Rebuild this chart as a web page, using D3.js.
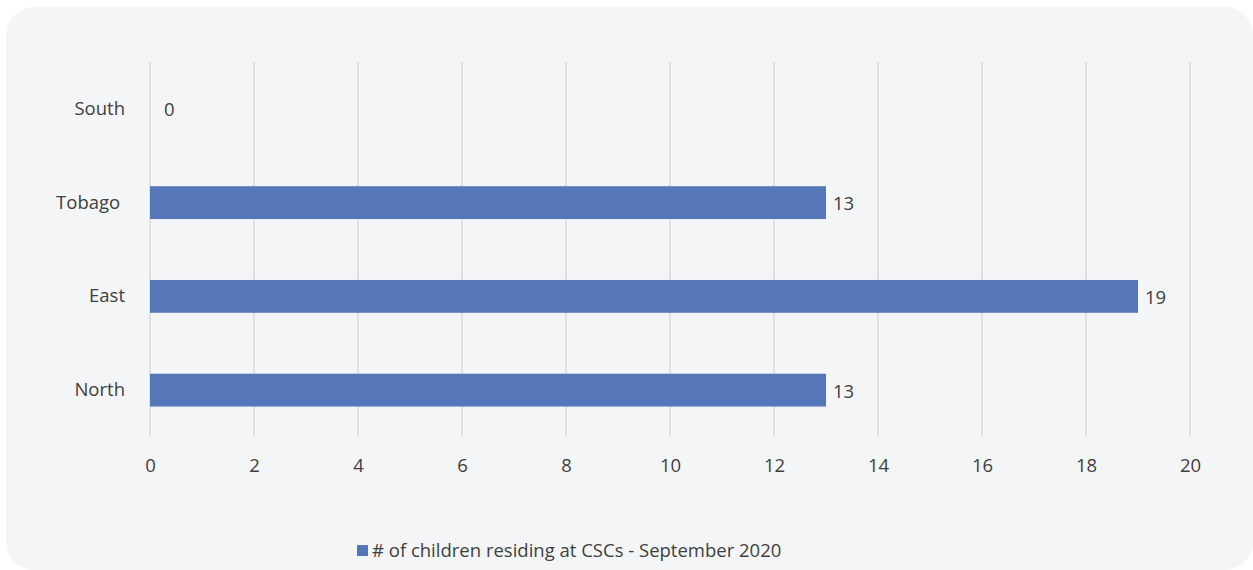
<!DOCTYPE html>
<html>
<head>
<meta charset="utf-8">
<script src="https://cdn.jsdelivr.net/npm/d3@7"></script>
<style>
  body { margin: 0; background: #fff; }
  text { font-family: "Open Sans", "Noto Sans", sans-serif; fill: #404040; }
</style>
</head>
<body>
<div id="chart"></div>
<script>
// categories from bottom to top as drawn
var regions = ["North", "East", "Tobago\u00a0", "South"];
var children = [13, 19, 13, 0];
var xTicks = [0, 2, 4, 6, 8, 10, 12, 14, 16, 18, 20];
var seriesName = "# of children residing at CSCs - September 2020";

var W = 1253, H = 570;
var FS = "18.5px";
var svg = d3.select("#chart").append("svg")
  .attr("width", W)
  .attr("height", H);

svg.append("rect")
  .attr("x", 6).attr("y", 7)
  .attr("width", 1247).attr("height", 563)
  .attr("rx", 28)
  .attr("fill", "#f4f5f7");

var x = d3.scaleLinear().domain([0, 20]).range([150, 1190]);
var y = d3.scaleBand().domain(regions.slice().reverse()).range([62, 437]).paddingInner(0.65).paddingOuter(0.325);

// gridlines
svg.append("g").selectAll("line")
  .data(xTicks)
  .enter().append("line")
  .attr("x1", function(d){ return x(d); })
  .attr("x2", function(d){ return x(d); })
  .attr("y1", 62).attr("y2", 437)
  .attr("stroke", "#d9d9d9")
  .attr("stroke-width", 1.5);

// x axis labels
var xAxis = d3.axisBottom(x).tickValues(xTicks).tickSize(0).tickPadding(0);
var gx = svg.append("g").attr("transform", "translate(0,459)").call(xAxis);
gx.select(".domain").remove();
gx.selectAll("text").style("font-size", FS).attr("fill", "#404040").attr("dy", "0.71em")
  .style("font-family", "'Open Sans', 'Noto Sans', sans-serif");

// y axis labels
var yAxis = d3.axisLeft(y).tickSize(0).tickPadding(25);
var gy = svg.append("g").attr("transform", "translate(150,0)").call(yAxis);
gy.select(".domain").remove();
gy.selectAll("text").style("font-size", FS).attr("fill", "#404040")
  .style("font-family", "'Open Sans', 'Noto Sans', sans-serif");

// bars
svg.append("g").selectAll("rect")
  .data(regions)
  .enter().append("rect")
  .attr("x", x(0))
  .attr("y", function(d){ return y(d); })
  .attr("width", function(d, i){ return x(children[i]) - x(0); })
  .attr("height", y.bandwidth())
  .attr("fill", "#5577b9");

// value labels
svg.append("g").selectAll("text")
  .data(regions)
  .enter().append("text")
  .attr("x", function(d, i){ return x(children[i]) + (children[i] ? 7 : 14); })
  .attr("y", function(d){ return y(d) + y.bandwidth() / 2 + 1; })
  .attr("dy", "0.35em")
  .style("font-size", FS)
  .text(function(d, i){ return children[i]; });

// legend
var legend = svg.append("g").attr("transform", "translate(357,551)");
legend.append("rect")
  .attr("x", 0).attr("y", -6)
  .attr("width", 11).attr("height", 11)
  .attr("fill", "#5577b9");
legend.append("text")
  .attr("x", 15)
  .attr("dy", "0.35em")
  .style("font-size", FS)
  .text(seriesName);
</script>
</body>
</html>
